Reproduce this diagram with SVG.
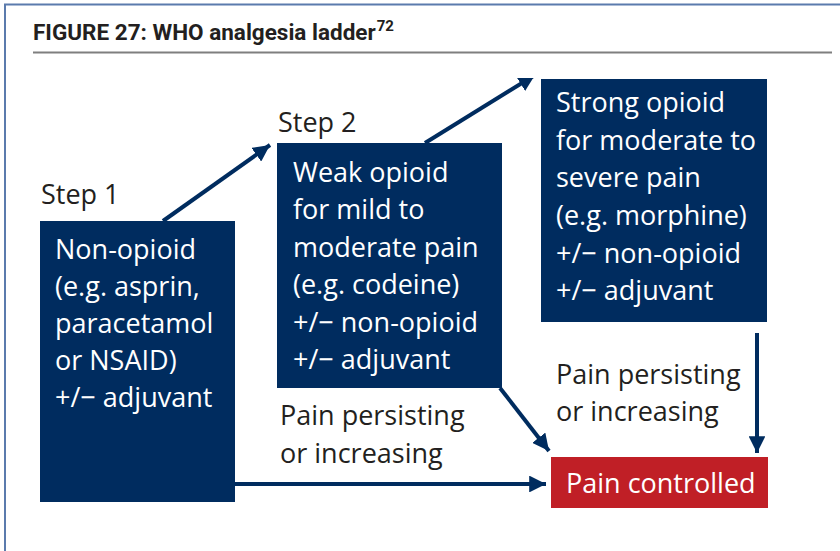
<svg xmlns="http://www.w3.org/2000/svg" width="840" height="551" viewBox="0 0 840 551">
<defs>
<style>
.box{fill:#002c5f}
.red{fill:#c01f26}
.bt{font-family:"Open Sans","Noto Sans",sans-serif;font-size:27px;fill:#ffffff}
.lb{font-family:"Open Sans","Noto Sans",sans-serif;font-size:27px;fill:#231f20}
.title{font-family:Roboto,"Liberation Sans",sans-serif;font-size:22.5px;font-weight:bold;fill:#231f20}
.sup{font-size:15px}
.conn{stroke:#002c5f;stroke-width:4;fill:none}
</style>
<marker id="ah" viewBox="0 0 10 10" refX="10" refY="5" markerWidth="4.2" markerHeight="4.2" markerUnits="strokeWidth" orient="auto">
<path d="M0,0 L10,5 L0,10 Z" fill="#002c5f"/>
</marker>
<clipPath id="clipTop"><rect x="0" y="78" width="840" height="473"/></clipPath>
</defs>
<rect x="0" y="0" width="840" height="551" fill="#ffffff"/>
<g id="frame">
<line x1="4" y1="4.5" x2="840" y2="4.5" stroke="#5b7bad" stroke-width="2"/>
<line x1="5" y1="4" x2="5" y2="551" stroke="#5b7bad" stroke-width="2"/>
<line x1="33" y1="52.5" x2="832" y2="52.5" stroke="#7f7f7f" stroke-width="2"/>
<text class="title" x="33" y="40">FIGURE 27: WHO analgesia ladder<tspan class="sup" dx="1" dy="-9">72</tspan></text>
</g>
<g id="connectors">
<line class="conn" x1="163" y1="221" x2="270" y2="145" marker-end="url(#ah)"/>
<g clip-path="url(#clipTop)">
<line class="conn" x1="425" y1="143" x2="535" y2="75" marker-end="url(#ah)"/>
</g>
<line class="conn" x1="500" y1="388" x2="549" y2="451" marker-end="url(#ah)"/>
<line class="conn" x1="235" y1="484" x2="546" y2="484" marker-end="url(#ah)"/>
<line class="conn" x1="757" y1="333" x2="757" y2="453" marker-end="url(#ah)"/>
</g>
<g id="step1">
<text class="lb" x="41" y="204">Step 1</text>
<rect class="box" x="40" y="221" width="195" height="281"/>
<text class="bt" x="55" y="259">Non-opioid</text>
<text class="bt" x="55" y="296">(e.g. asprin,</text>
<text class="bt" x="55" y="333">paracetamol</text>
<text class="bt" x="55" y="370">or NSAID)</text>
<text class="bt" x="55" y="407">+/− adjuvant</text>
</g>
<g id="step2">
<text class="lb" x="278" y="132">Step 2</text>
<rect class="box" x="277" y="143" width="225" height="245"/>
<text class="bt" x="293" y="182">Weak opioid</text>
<text class="bt" x="293" y="219">for mild to</text>
<text class="bt" x="293" y="257">moderate pain</text>
<text class="bt" x="293" y="294">(e.g. codeine)</text>
<text class="bt" x="293" y="332">+/− non-opioid</text>
<text class="bt" x="293" y="369">+/− adjuvant</text>
</g>
<g id="step3">
<rect class="box" x="541" y="79" width="226" height="243"/>
<text class="bt" x="556" y="112">Strong opioid</text>
<text class="bt" x="556" y="150">for moderate to</text>
<text class="bt" x="556" y="187">severe pain</text>
<text class="bt" x="556" y="225">(e.g. morphine)</text>
<text class="bt" x="556" y="263">+/− non-opioid</text>
<text class="bt" x="556" y="300">+/− adjuvant</text>
</g>
<g id="label1">
<text class="lb" x="280" y="425">Pain persisting</text>
<text class="lb" x="280" y="463">or increasing</text>
</g>
<g id="label2">
<text class="lb" x="556" y="384">Pain persisting</text>
<text class="lb" x="556" y="421">or increasing</text>
</g>
<g id="controlled">
<rect class="red" x="551" y="457" width="217" height="51"/>
<text class="bt" x="566" y="493">Pain controlled</text>
</g>
</svg>
